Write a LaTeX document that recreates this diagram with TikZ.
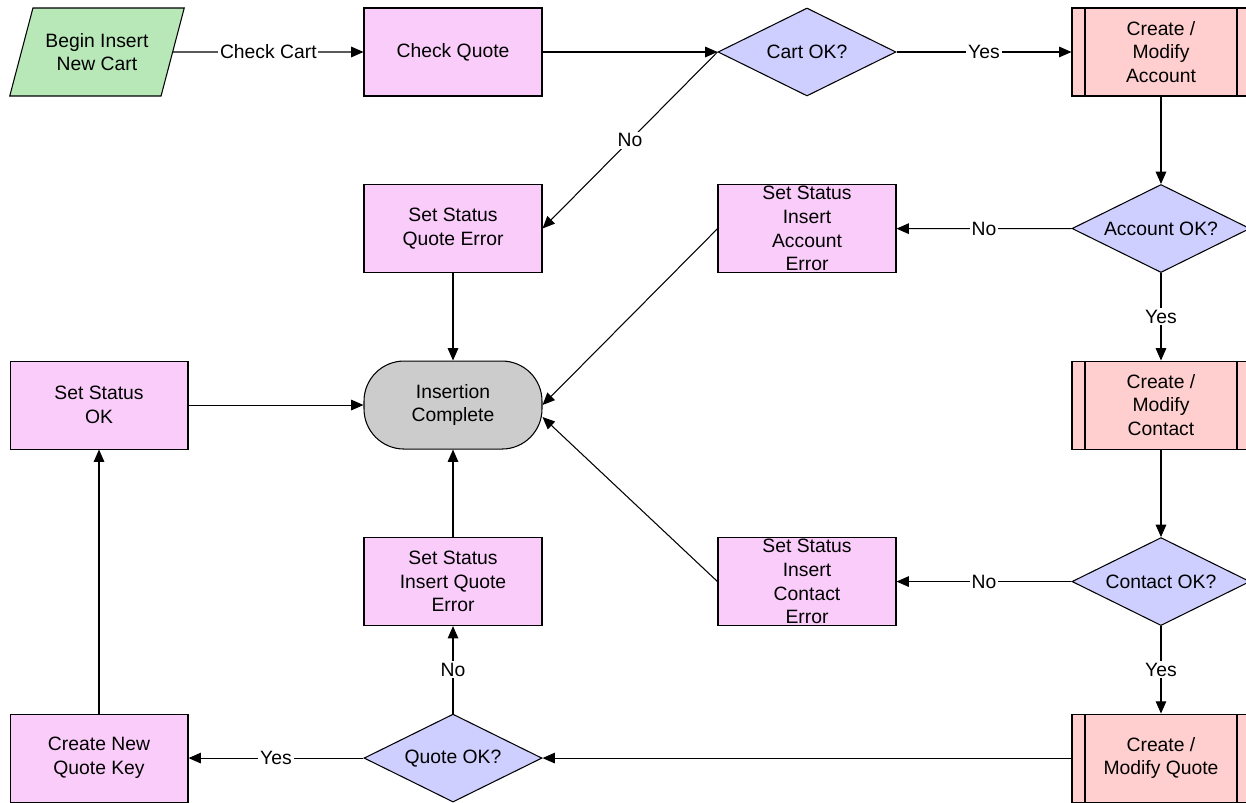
\documentclass[tikz,border=0pt]{standalone}
\usepackage{fontspec}
\setmainfont{Liberation Sans}
\usetikzlibrary{positioning, shapes.geometric, arrows.meta}
\definecolor{procpink}{RGB}{250,204,250}
\definecolor{predefred}{RGB}{255,206,206}
\definecolor{askblue}{RGB}{206,206,255}
\definecolor{startgreen}{RGB}{184,232,184}
\definecolor{endgray}{RGB}{204,204,204}
\tikzstyle{Flow} = [line width=0.6pt, -{Triangle[length=7pt,width=6pt]}]
\tikzstyle{Lbl} = [fill=white, inner sep=1pt, font=\fontsize{11}{13}\selectfont]
\tikzstyle{Process} = [draw, line width=0.6pt, fill=procpink,
minimum width=3.56cm, minimum height=1.76cm, align=center,
inner sep=1pt, font=\fontsize{11}{13.5}\selectfont]
\tikzstyle{Predef} = [Process, fill=predefred,
path picture={
\draw[line width=0.6pt]
([xshift=0.26cm]path picture bounding box.north west) --
([xshift=0.26cm]path picture bounding box.south west)
([xshift=-0.26cm]path picture bounding box.north east) --
([xshift=-0.26cm]path picture bounding box.south east);}]
\tikzstyle{Decision} = [Process, shape=diamond, aspect=2, inner sep=0pt,
fill=askblue]
\tikzstyle{Terminal} = [Process, fill=endgray, rounded corners=0.8cm]
\tikzstyle{Start} = [Process, shape=trapezium, fill=startgreen,
trapezium left angle=65, trapezium right angle=115,
trapezium stretches=true, minimum width=3.52cm]

\begin{document}
\begin{tikzpicture}[x=0.02cm, y=0.02cm, node distance=1.75cm and 3.5cm]
    \useasboundingbox (0,0) rectangle (1246,-803);
    % top row
    \node [Start] (begin) at (97,-52) {Begin Insert\\New Cart};
    \node [Process] (chkquote) at (453,-52) {Check Quote};
    \node [Decision, right =of chkquote] (cartok) {Cart OK?};
    \node [Predef, right =of cartok] (acct) {Create /\\Modify\\Account};
    % error boxes and checks
    \node [Process, below =of chkquote] (quoteerr) {Set Status\\Quote Error};
    \node [Process, below =of cartok] (accterr) {Set Status\\Insert\\Account\\Error};
    \node [Decision, below =of acct] (acctok) {Account OK?};
    \node [Terminal, below =of quoteerr] (done) {Insertion\\Complete};
    \node [Predef, below =of acctok] (contact) {Create /\\Modify\\Contact};
    \node [Process, left =of done] (statusok) {Set Status\\OK};
    \node [Process, below =of done] (insquoteerr) {Set Status\\Insert Quote\\Error};
    \node [Decision, below =of contact] (contactok) {Contact OK?};
    \node [Process, left =of contactok] (contacterr) {Set Status\\Insert\\Contact\\Error};
    % bottom row
    \node [Decision, below =of insquoteerr] (quoteok) {Quote OK?};
    \node [Predef, below =of contactok] (quote) {Create /\\Modify Quote};
    \node [Process, left =of quoteok] (newkey) {Create New\\Quote Key};
    \draw[Flow] (begin) -- node[Lbl]{Check Cart} (chkquote);
    \draw[Flow] (chkquote) -- (cartok);
    \draw[Flow] (cartok) -- node[Lbl]{Yes} (acct);
    \draw[Flow] (cartok.west) -- node[Lbl]{No} (quoteerr.east);
    \draw[Flow] (acct) -- (acctok);
    \draw[Flow] (acctok) -- node[Lbl]{No} (accterr);
    \draw[Flow] (acctok) -- node[Lbl]{Yes} (contact);
    \draw[Flow] (quoteerr) -- (done);
    \draw[Flow] (accterr.west) -- (done.east);
    \draw[Flow] (statusok) -- (done);
    \draw[Flow] (contact) -- (contactok);
    \draw[Flow] (contactok) -- node[Lbl]{No} (contacterr);
    \draw[Flow] (contacterr.west) -- ([yshift=-0.24cm]done.east);
    \draw[Flow] (contactok) -- node[Lbl]{Yes} (quote);
    \draw[Flow] (quote) -- (quoteok);
    \draw[Flow] (quoteok) -- node[Lbl]{No} (insquoteerr);
    \draw[Flow] (insquoteerr) -- (done);
    \draw[Flow] (quoteok) -- node[Lbl]{Yes} (newkey);
    \draw[Flow] (newkey) -- (statusok);
\end{tikzpicture}
\end{document}
